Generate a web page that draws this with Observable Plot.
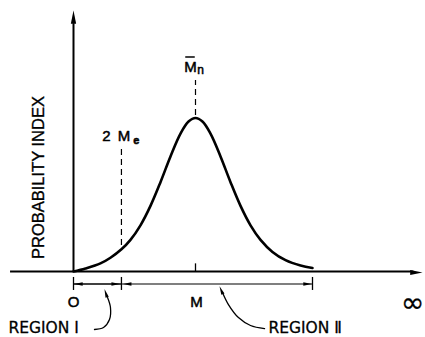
<!DOCTYPE html>
<html><head><meta charset="utf-8">
<script src="https://cdn.jsdelivr.net/npm/d3@7"></script>
<script src="https://cdn.jsdelivr.net/npm/@observablehq/plot@0.6"></script>
<style>body{margin:0;background:#fff}</style>
</head><body><div id="chart"></div>
<script>
// Probability-index curve (x in arbitrary molecular-weight units, M = 10; y peak ≈ 100)
const curveX = [0, 0.98, 2.21, 3.03, 3.93, 4.67, 5.49, 6.31, 7.13, 7.95, 8.77, 9.43, 10, 10.57, 11.23, 12.05, 12.87, 13.69, 14.51, 15.33, 16.31, 17.38, 18.61, 19.59];
const curveY = [0, 2.0, 5.3, 9.0, 14.5, 20.7, 30.2, 42.9, 58.4, 75.2, 90.1, 98.0, 100.3, 98.0, 90.1, 75.2, 58.4, 42.9, 30.2, 20.7, 12.8, 7.4, 3.9, 2.3];

// Key abscissae
const origin = 0;
const twoMe = 3.93;     // 2 Me
const Mn = 10;          // M̄n  (also "M")
const regionEnd = 19.59;
const axisXEnd = 28.61; // ∞
const axisYEnd = 170.6;

// Annotation texts
const regionLabels = ["REGION Ⅰ", "REGION Ⅱ"];
const yTitle = "PROBABILITY INDEX";

// Leader lines (region label → bracket)
const leader1X = [1.72, 2.46, 2.95, 3.03, 2.79, 2.54];
const leader1Y = [-37.9, -36.6, -31.4, -23.5, -17.0, -11.5];
const leader2X = [15.66, 14.51, 13.52, 12.70, 12.21, 11.97];
const leader2Y = [-37.3, -35.3, -30.1, -21.6, -13.7, -9.6];

const curve = curveX.map((x, i) => ({x, y: curveY[i]}));
const lead1 = leader1X.map((x, i) => ({x, y: leader1Y[i]}));
const lead2 = leader2X.map((x, i) => ({x, y: leader2Y[i]}));

// Narrow filled arrowhead, tip at the point, pointing up when rotate = 0
const head = {draw(ctx, size) {
  const r = Math.sqrt(size / Math.PI);
  ctx.moveTo(0, 0);
  ctx.lineTo(-0.38 * r, 1.9 * r);
  ctx.lineTo(0.38 * r, 1.9 * r);
  ctx.closePath();
}};

const bracketY = -8.2;
const font = "'Liberation Sans', Arial, Helvetica, sans-serif";
const ink = {fill: "black", stroke: "black", strokeWidth: 0.5};

const chart = Plot.plot({
  width: 425, height: 337, margin: 0,
  x: {domain: [-73 / 12.2, 352 / 12.2], axis: null},
  y: {domain: [-66 / 1.53, 271 / 1.53], axis: null},
  style: {fontFamily: font, background: "white", color: "black"},
  marks: [
    // axes
    Plot.ruleX([origin], {y1: 0, y2: 162, stroke: "black", strokeWidth: 2}),
    Plot.ruleY([0], {x1: -5.16, x2: 27.9, stroke: "black", strokeWidth: 1.8}),
    Plot.dot([{x: origin, y: axisYEnd, a: 0}], {x: "x", y: "y", rotate: "a", r: 7, symbol: head, fill: "black", stroke: "none"}),
    Plot.dot([{x: axisXEnd, y: -0.6, a: 90}], {x: "x", y: "y", rotate: "a", r: 6.5, symbol: head, fill: "black", stroke: "none"}),
    // curve
    Plot.line(curve, {x: "x", y: "y", curve: "catmull-rom", stroke: "black", strokeWidth: 2.6}),
    // dashed markers
    Plot.ruleX([twoMe], {y1: 17, y2: 82.4, stroke: "black", strokeWidth: 1.2, strokeDasharray: "6,4"}),
    Plot.ruleX([Mn], {y1: 102, y2: 124.8, stroke: "black", strokeWidth: 1.2, strokeDasharray: "6,4"}),
    // M tick
    Plot.ruleX([Mn], {y1: 0, y2: 5, stroke: "black", strokeWidth: 1.3}),
    // region brackets
    Plot.ruleY([bracketY], {x1: origin, x2: twoMe, stroke: "black", strokeWidth: 1.6}),
    Plot.ruleY([bracketY], {x1: twoMe, x2: regionEnd, stroke: "black", strokeWidth: 1.1}),
    Plot.ruleX([origin, twoMe, regionEnd], {y1: -3.9, y2: -12.4, stroke: "black", strokeWidth: 1.3}),
    Plot.dot([
      {x: origin + 0.05, a: -90}, {x: twoMe - 0.12, a: 90},
      {x: twoMe + 0.12, a: -90}, {x: regionEnd - 0.05, a: 90}
    ], {x: "x", y: () => bracketY, rotate: "a", r: 4.5, symbol: head, fill: "black", stroke: "none"}),
    // leaders
    Plot.line(lead1.slice(0, 5), {x: "x", y: "y", curve: "catmull-rom", stroke: "black", strokeWidth: 1.3}),
    Plot.line(lead2.slice(0, 5), {x: "x", y: "y", curve: "catmull-rom", stroke: "black", strokeWidth: 1.3}),
    Plot.dot([{...lead1[5], a: -18}, {...lead2[5], a: -23}], {x: "x", y: "y", rotate: "a", r: 4.5, symbol: head, fill: "black", stroke: "none"}),
    // labels
    Plot.text([{t: "2", x: 2.70, y: 85.3}, {t: "M", x: 4.14, y: 85.3}, {t: "M", x: 9.59, y: 130.7}],
      {x: "x", y: "y", text: "t", fontSize: 15, lineAnchor: "bottom", ...ink}),
    Plot.text([{t: "e", x: 5.15, y: 83.5}], {x: "x", y: "y", text: "t", fontSize: 11, fontWeight: "bold", lineAnchor: "bottom", ...ink}),
    Plot.text([{t: "n", x: 10.42, y: 128.8}], {x: "x", y: "y", text: "t", fontSize: 12, lineAnchor: "bottom", ...ink}),
    Plot.ruleY([140.2], {x1: 9.2, x2: 9.98, stroke: "black", strokeWidth: 1.5}),
    Plot.text([{t: "O", x: origin, y: -23.5}, {t: "M", x: 10.08, y: -23.5}],
      {x: "x", y: "y", text: "t", fontSize: 15, lineAnchor: "bottom", ...ink}),
    Plot.text([{t: "∞", x: 27.8, y: -20.3}], {x: "x", y: "y", text: "t", fontSize: 28, fontStyle: "italic", fontFamily: "DejaVu Sans", lineAnchor: "middle", fill: "black", stroke: "black", strokeWidth: 0.3}),
    Plot.text([{t: regionLabels[0], x: -5.33, y: -40.5}, {t: regionLabels[1], x: 15.98, y: -40.5}],
      {x: "x", y: "y", text: "t", fontSize: 15.5, fontFamily: "DejaVu Sans", textAnchor: "start", lineAnchor: "bottom", fill: "black", stroke: "black", strokeWidth: 0.3}),
    Plot.text([{t: yTitle, x: -2.87, y: 61.4}], {x: "x", y: "y", text: "t", fontSize: 16.5, rotate: -90, lineAnchor: "middle", fill: "black", stroke: "black", strokeWidth: 0.35})
  ]
});
document.getElementById("chart").append(chart);
</script>
</body></html>
